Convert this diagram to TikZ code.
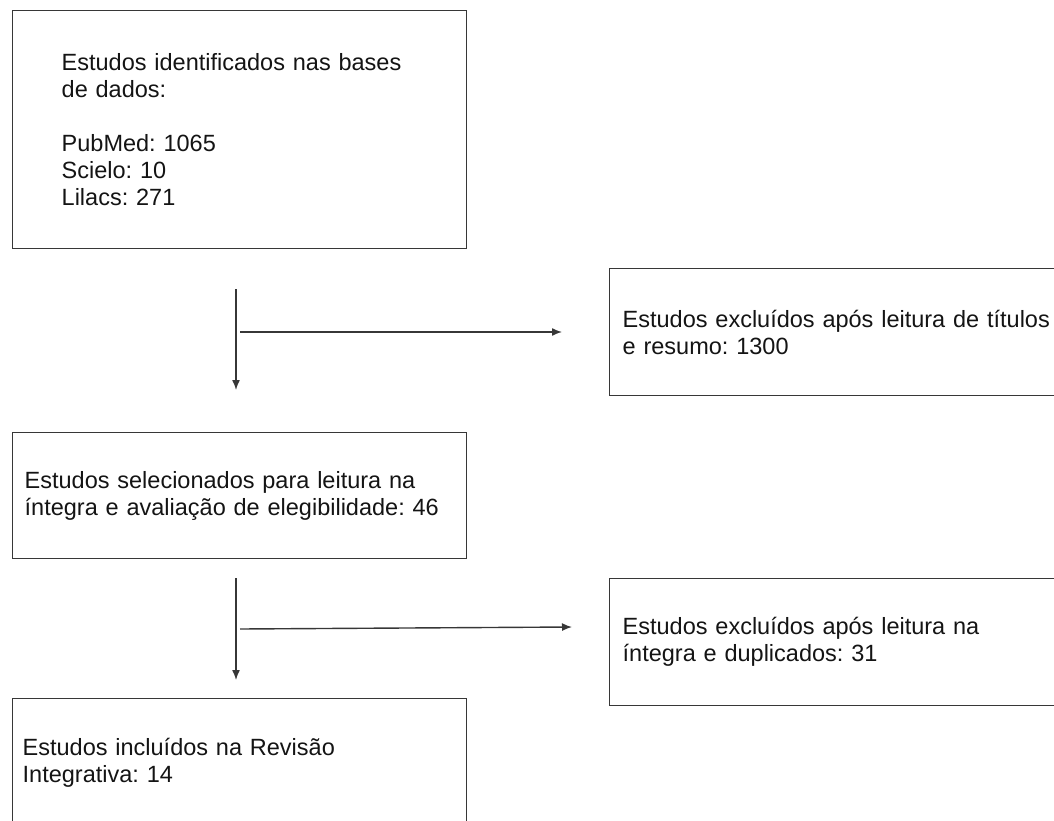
\documentclass[tikz,border=0pt]{standalone}
\usepackage{fontspec}
\setmainfont{Liberation Sans}
\usepackage{xcolor}
\definecolor{lineGray}{RGB}{55,55,55}
\definecolor{textGray}{RGB}{20,20,20}
\usepackage{tikz}
\usetikzlibrary{arrows.meta,positioning,calc}
\tikzstyle{flowbox}=[draw=lineGray, line width=1.4pt, align=left, anchor=north west, font=\fontsize{23.5}{27}\selectfont, text=textGray, inner ysep=0pt]
\tikzstyle{flowarrow}=[draw=lineGray, line width=1.4pt, -{Latex[length=10pt,width=8pt]}]
\frenchspacing

\begin{document}
\begin{tikzpicture}[x=1pt,y=-1pt]
        \clip (0,0) rectangle (1054,821);
        % boxes
        \node[flowbox, minimum width=454, minimum height=238, inner xsep=49pt, text width=356pt] (ident) at (12,10)
          {Estudos identificados nas bases\\de dados:\\[27pt]PubMed: 1065\\Scielo: 10\\Lilacs: 271};
        \node[flowbox, minimum width=460, minimum height=127, inner xsep=13pt, text width=434pt] (excl1) at (609,268)
          {Estudos excluídos após leitura de títulos\\e resumo: 1300};
        \node[flowbox, minimum width=454, minimum height=126, inner xsep=12pt, text width=430pt] (sel) at (12,432)
          {Estudos selecionados para leitura na\\íntegra e avaliação de elegibilidade: 46};
        \node[flowbox, minimum width=460, minimum height=127, inner xsep=13pt, text width=434pt] (excl2) at (609,578)
          {Estudos excluídos após leitura na\\íntegra e duplicados: 31};
        \node[flowbox, minimum width=454, minimum height=128, inner xsep=10pt, text width=434pt] (incl) at (12,698)
          {Estudos incluídos na Revisão\\Integrativa: 14};
        % arrow ends
        \coordinate (v1top) at (236,289);
        \coordinate (v1end) at (236,390);
        \coordinate (h1start) at (240,332);
        \coordinate (h1end) at (562,332);
        \coordinate (v2top) at (236,578);
        \coordinate (v2end) at (236,680);
        \coordinate (h2start) at (240,629);
        \coordinate (h2end) at (572,627);
        \draw[flowarrow] (v1top) -- (v1end);
        \draw[flowarrow] (h1start) -- (h1end);
        \draw[flowarrow] (v2top) -- (v2end);
        \draw[flowarrow] (h2start) -- (h2end);
      \end{tikzpicture}
\end{document}
